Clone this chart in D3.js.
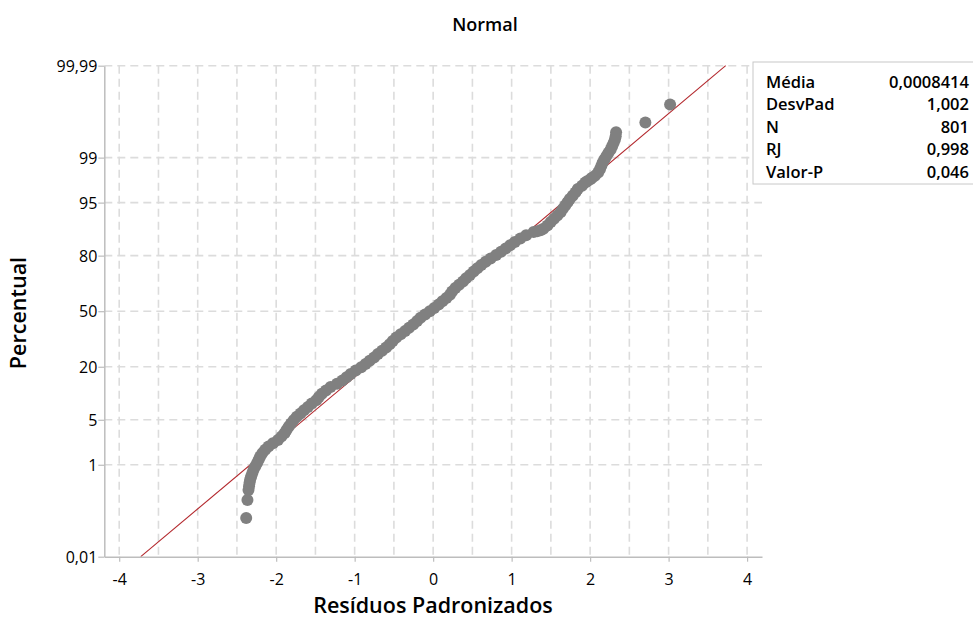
<!DOCTYPE html>
<html><head><meta charset="utf-8">
<script src="https://cdn.jsdelivr.net/npm/d3@7"></script>
<style>
body{margin:0;background:#fff}
svg{display:block}
text{font-family:"Open Sans","Noto Sans",sans-serif}
</style>
</head><body>
<svg id="c" width="973" height="619"></svg>
<script>
// ---- data ----
const xTicks = [-4, -3, -2, -1, 0, 1, 2, 3, 4];
const yTicks = [0.01, 1, 5, 20, 50, 80, 95, 99, 99.99];
const yTickLabels = ["0,01", "1", "5", "20", "50", "80", "95", "99", "99,99"];
const statLabels = ["Média", "DesvPad", "N", "RJ", "Valor-P"];
const statValues = ["0,0008414", "1,002", "801", "0,998", "0,046"];
const fitMean = 0.0008414;
const fitSd = 1.002;

const residuals = [
 -2.382,-2.366,-2.353,-2.346,-2.339,-2.331,-2.318,-2.303,-2.288,-2.266,
 -2.243,-2.223,-2.204,-2.176,-2.140,-2.098,-2.041,-1.977,-1.934,-1.894,
 -1.868,-1.841,-1.811,-1.777,-1.738,-1.690,-1.646,-1.596,-1.547,-1.490,
 -1.456,-1.418,-1.366,-1.307,-1.225,-1.157,-1.103,-1.051,-0.987,-0.917,
 -0.861,-0.809,-0.753,-0.704,-0.651,-0.599,-0.554,-0.515,-0.470,-0.414,
 -0.357,-0.307,-0.254,-0.204,-0.161,-0.103,-0.043,0.014,0.070,0.118,
 0.169,0.214,0.241,0.283,0.330,0.380,0.420,0.469,0.516,0.563,
 0.613,0.669,0.732,0.803,0.865,0.924,0.981,1.041,1.111,1.185,
 1.280,1.325,1.369,1.405,1.456,1.498,1.540,1.582,1.623,1.652,
 1.683,1.712,1.741,1.778,1.813,1.843,1.897,1.939,1.962,2.003,
 2.025,2.061,2.103,2.125,2.143,2.159,2.183,2.209,2.234,2.262,
 2.280,2.299,2.316,2.326,2.331,2.704,3.019
];
const percents = [
 0.087,0.212,0.336,0.402,0.466,0.539,0.621,0.714,0.820,0.939,
 1.072,1.222,1.390,1.578,1.786,2.018,2.275,2.559,2.872,3.216,
 3.593,4.006,4.457,4.947,5.480,6.057,6.681,7.353,8.076,8.851,
 9.680,10.565,11.507,12.507,13.567,14.686,15.866,17.106,18.406,19.766,
 21.186,22.663,24.196,25.785,27.425,29.116,30.854,32.636,34.458,36.317,
 38.209,40.129,42.074,44.038,46.017,48.006,50.000,51.994,53.983,55.962,
 57.926,59.871,61.791,63.683,65.542,67.364,69.146,70.884,72.575,74.215,
 75.804,77.337,78.814,80.234,81.594,82.894,84.134,85.314,86.433,87.493,
 88.493,88.686,88.971,89.435,90.320,91.149,91.924,92.647,93.319,93.943,
 94.520,95.053,95.543,95.994,96.407,96.784,97.128,97.441,97.558,97.725,
 97.831,97.982,98.214,98.422,98.610,98.778,98.928,99.061,99.180,99.286,
 99.379,99.461,99.534,99.598,99.664,99.788,99.913
];

// ---- normal probability transform (inverse normal CDF) ----
function probit(p){
  const a=[-3.969683028665376e+01,2.209460984245205e+02,-2.759285104469687e+02,1.383577518672690e+02,-3.066479806614716e+01,2.506628277459239e+00];
  const b=[-5.447609879822406e+01,1.615858368580409e+02,-1.556989798598866e+02,6.680131188771972e+01,-1.328068155288572e+01];
  const c=[-7.784894002430293e-03,-3.223964580411365e-01,-2.400758277161838e+00,-2.549732539343734e+00,4.374664141464968e+00,2.938163982698783e+00];
  const d=[7.784695709041462e-03,3.224671290700398e-01,2.445134137142996e+00,3.754408661907416e+00];
  const pl=0.02425, ph=1-pl; let q,r;
  if(p<pl){q=Math.sqrt(-2*Math.log(p));return (((((c[0]*q+c[1])*q+c[2])*q+c[3])*q+c[4])*q+c[5])/((((d[0]*q+d[1])*q+d[2])*q+d[3])*q+1);}
  if(p<=ph){q=p-0.5;r=q*q;return (((((a[0]*r+a[1])*r+a[2])*r+a[3])*r+a[4])*r+a[5])*q/(((((b[0]*r+b[1])*r+b[2])*r+b[3])*r+b[4])*r+1);}
  q=Math.sqrt(-2*Math.log(1-p));return -(((((c[0]*q+c[1])*q+c[2])*q+c[3])*q+c[4])*q+c[5])/((((d[0]*q+d[1])*q+d[2])*q+d[3])*q+1);
}

const svg = d3.select("#c");
const L = 104.3, R = 762, T = 65.7, B = 556.7;
const x = d3.scaleLinear().domain([-4.19, 4.19]).range([L, R]);
const zTop = probit(yTicks[yTicks.length-1]/100);
const zBot = probit(yTicks[0]/100);
const yz = d3.scaleLinear().domain([zBot, zTop]).range([B, T]);
const y = p => yz(probit(p/100));

const gridColor = "#dcdcdc";
// vertical grid every 0.5
const xGrid = d3.range(-4, 4.001, 0.5);
svg.append("g").selectAll("line").data(xGrid).join("line")
  .attr("x1", d => x(d)).attr("x2", d => x(d))
  .attr("y1", T).attr("y2", B)
  .attr("stroke", gridColor).attr("stroke-width", 1.6).attr("stroke-dasharray", "8,5");
// horizontal grid at y ticks
svg.append("g").selectAll("line").data(yTicks.slice(1)).join("line")
  .attr("x1", L).attr("x2", R)
  .attr("y1", d => y(d)).attr("y2", d => y(d))
  .attr("stroke", gridColor).attr("stroke-width", 1.6).attr("stroke-dasharray", "8,5");

// fitted line
svg.append("line")
  .attr("x1", x(fitMean + fitSd*zBot)).attr("y1", yz(zBot))
  .attr("x2", x(fitMean + fitSd*zTop)).attr("y2", yz(zTop))
  .attr("stroke", "#b3282d").attr("stroke-width", 1.1);

// points
svg.append("g").selectAll("circle").data(residuals.map((r,i)=>[r, percents[i]])).join("circle")
  .attr("cx", d => x(d[0])).attr("cy", d => y(d[1])).attr("r", 6)
  .attr("fill", "#808080");

// axes
const axisColor = "#bdbdbd";
const gx = svg.append("g").attr("transform", `translate(0,${B})`)
  .call(d3.axisBottom(x).tickValues(xTicks).tickFormat(d => String(d)).tickSize(5).tickSizeOuter(0));
const gy = svg.append("g").attr("transform", `translate(${L},0)`)
  .call(d3.axisLeft(yz).tickValues(yTicks.map(p => probit(p/100))).tickFormat((d,i) => yTickLabels[i]).tickSize(6).tickSizeOuter(0));
[gx, gy].forEach(g => {
  g.select(".domain").attr("stroke", axisColor).attr("stroke-width", 1.5);
  g.selectAll(".tick line").attr("stroke", axisColor).attr("stroke-width", 1.2);
  g.selectAll(".tick text").attr("fill", "#000").style("font-size", "16px")
    .style("font-family", '"Open Sans","Noto Sans",sans-serif').style("font-weight", 500);
});
gx.selectAll(".tick text").attr("dy", "0").attr("y", 28);
gy.selectAll(".tick text").attr("x", -7).attr("dy", "0.35em");

// titles
svg.append("text").attr("x", 485).attr("y", 31).attr("text-anchor", "middle")
  .style("font-size", "18px").style("font-weight", 600).text("Normal");
svg.append("text").attr("x", 433).attr("y", 613).attr("text-anchor", "middle")
  .style("font-size", "21.5px").style("font-weight", 600).text("Resíduos Padronizados");
svg.append("text").attr("transform", "translate(26,313) rotate(-90)").attr("text-anchor", "middle")
  .style("font-size", "21.5px").style("font-weight", 600).text("Percentual");

// stats box
const box = svg.append("g");
box.append("rect").attr("x", 753).attr("y", 62).attr("width", 240).attr("height", 122)
  .attr("fill", "#fff").attr("stroke", "#c8c8c8").attr("stroke-width", 1);
const rowY = d3.scalePoint().domain(statLabels).range([87.5, 177.5]);
box.selectAll("text.l").data(statLabels).join("text").attr("class","l")
  .attr("x", 766).attr("y", d => rowY(d)).style("font-size", "16.5px").style("font-weight", 600).text(d => d);
box.selectAll("text.v").data(statValues).join("text").attr("class","v")
  .attr("x", 969).attr("y", (d,i) => rowY(statLabels[i])).attr("text-anchor", "end")
  .style("font-size", "16.5px").style("font-weight", 600).text(d => d);
</script>
</body></html>
